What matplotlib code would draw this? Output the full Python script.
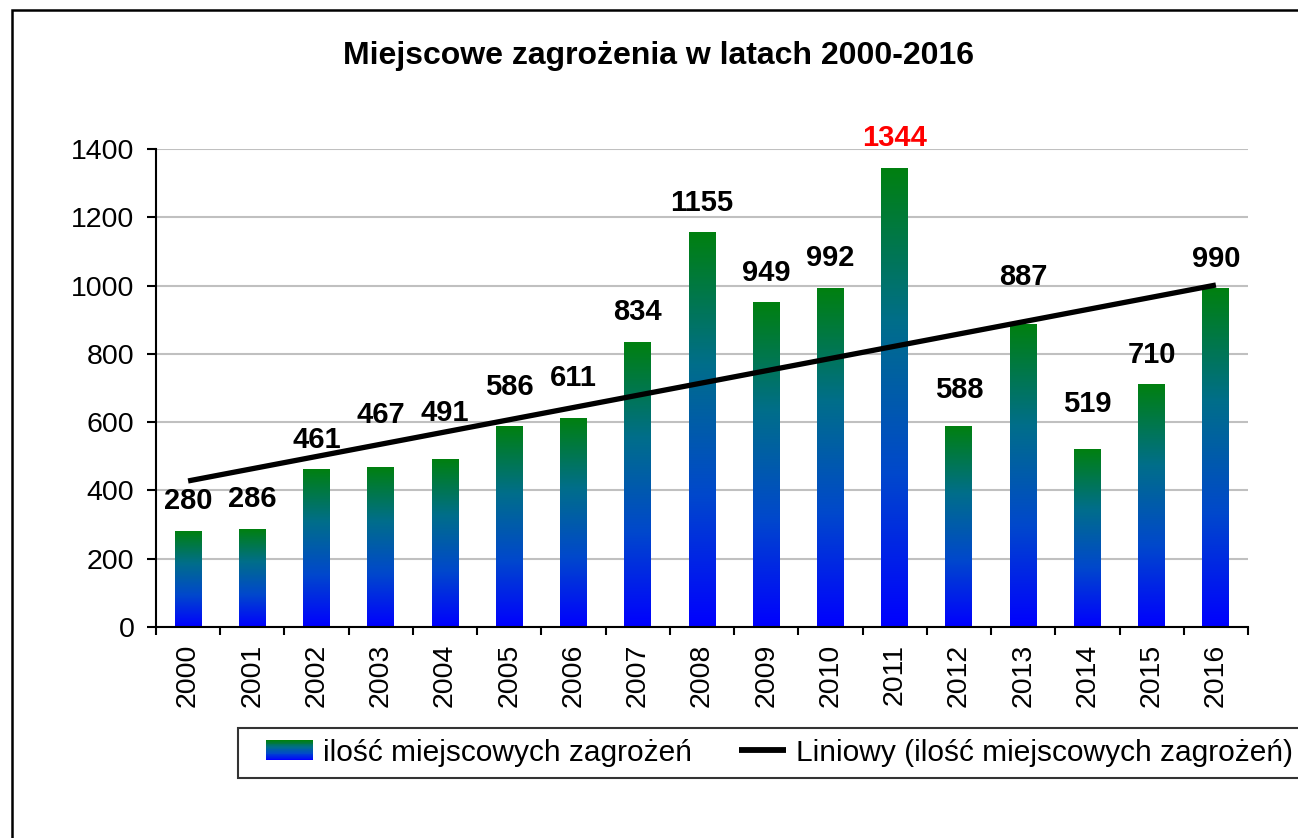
import numpy as np
import matplotlib
matplotlib.use('Agg')
import matplotlib.pyplot as plt
from matplotlib.colors import LinearSegmentedColormap
from matplotlib.patches import Rectangle
from matplotlib.lines import Line2D
from matplotlib.legend_handler import HandlerBase

plt.rcParams['font.family'] = ['Liberation Sans', 'DejaVu Sans']

# dane
lata = ['2000', '2001', '2002', '2003', '2004', '2005', '2006', '2007', '2008',
        '2009', '2010', '2011', '2012', '2013', '2014', '2015', '2016']
zagrozenia = [280, 286, 461, 467, 491, 586, 611, 834, 1155,
              949, 992, 1344, 588, 887, 519, 710, 990]
# dodatkowe odsuniecie etykiet (px) tam, gdzie koliduja z linia trendu
przesuniecia = [0, 0, 0, 23, 16, 10, 10, 0, 0, 0, 0, 0, 6, 17, 16, 0, 0]

tytul = 'Miejscowe zagrożenia w latach 2000-2016'
etykieta_serii = 'ilość miejscowych zagrożeń'
etykieta_trendu = 'Liniowy (ilość miejscowych zagrożeń)'

gradient = LinearSegmentedColormap.from_list(
    'zielono_niebieski', ['#0000FF', '#0048CC', '#006E8A', '#008010'])

FS = 21.5        # rozmiar czcionki legendy
PX = 100 / 72    # px na punkt
WCIECIE = 17     # px pustego miejsca przed symbolem w legendzie


class GradientHandler(HandlerBase):
    # prostokat z gradientem w legendzie
    def create_artists(self, legend, orig_handle, xdescent, ydescent,
                       width, height, fontsize, trans):
        n = 24
        x0 = -xdescent + WCIECIE / PX
        w = width - WCIECIE / PX
        out = []
        for i in range(n):
            r = Rectangle((x0, -ydescent + height * i / n), w, height / n + 0.3,
                          facecolor=gradient(i / (n - 1)), edgecolor='none', transform=trans)
            out.append(r)
        return out


class LiniaHandler(HandlerBase):
    def create_artists(self, legend, orig_handle, xdescent, ydescent,
                       width, height, fontsize, trans):
        x0 = -xdescent + WCIECIE / PX
        y = -ydescent + height / 2
        l = Line2D([x0, -xdescent + width], [y, y], color='black', lw=4.2,
                   solid_capstyle='butt', transform=trans)
        return [l]


fig = plt.figure(figsize=(12.98, 8.38), dpi=100)
ax = fig.add_axes([156 / 1298, 1 - 627 / 838, (1248 - 156) / 1298, (627 - 149) / 838])

x = np.arange(len(lata))
szer = 0.42
slupki = ax.bar(x, zagrozenia, width=szer, color='none', edgecolor='none', zorder=2)

grad = np.linspace(0, 1, 256).reshape(-1, 1)
for r in slupki:
    ax.imshow(grad, extent=[r.get_x(), r.get_x() + r.get_width(), 0, r.get_height()],
              origin='lower', aspect='auto', cmap=gradient, zorder=2)

# linia trendu
a, b = np.polyfit(x, zagrozenia, 1)
ax.plot([x[0], x[-1]], [a * x[0] + b, a * x[-1] + b], color='black', lw=3.8,
        zorder=3, solid_capstyle='butt')

# etykiety wartosci
maks = max(zagrozenia)
for xi, v, dp in zip(x, zagrozenia, przesuniecia):
    ax.annotate(str(v), (xi, v), xytext=(0, (30 + dp) / PX), textcoords='offset points',
                ha='center', va='center', fontsize=21, fontweight='bold',
                color='red' if v == maks else 'black', annotation_clip=False, zorder=4)

ax.set_xlim(-0.5, len(lata) - 0.5)
ax.set_ylim(0, 1400)
ax.set_yticks(range(0, 1401, 200))
ax.yaxis.grid(True, color='#C0C0C0', lw=1.5)
ax.set_axisbelow(True)

ax.set_xticks(np.arange(-0.5, len(lata), 1))
ax.set_xticklabels([])
ax.set_xticks(x, minor=True)
ax.set_xticklabels(lata, minor=True, rotation=90)
ax.tick_params(axis='x', which='major', length=6, width=1.5, direction='out')
ax.tick_params(axis='x', which='minor', length=0, pad=12, labelsize=20.5)
ax.tick_params(axis='y', length=6.5, width=1.5, direction='out', pad=9, labelsize=20.5)

for s in ['top', 'right']:
    ax.spines[s].set_visible(False)
for s in ['left', 'bottom']:
    ax.spines[s].set_linewidth(1.5)

fig.text(0.507, 1 - 56 / 838, tytul, ha='center', va='center', fontsize=23, fontweight='bold')

h_slupki = Rectangle((0, 0), 1, 1)
h_trend = Line2D([], [])
em = FS * PX
leg = fig.legend([h_slupki, h_trend], [etykieta_serii, etykieta_trendu],
                 handler_map={Rectangle: GradientHandler(), Line2D: LiniaHandler()},
                 loc='upper left', bbox_to_anchor=(238 / 1298, 1 - 728 / 838),
                 ncol=2, fontsize=FS, frameon=True, fancybox=False,
                 handlelength=(47 + WCIECIE) / em, handletextpad=10 / em,
                 columnspacing=30 / em, handleheight=0.65,
                 borderpad=0.36, borderaxespad=0)
leg.get_frame().set_edgecolor('black')
leg.get_frame().set_linewidth(1.5)

# ramka wokol calego wykresu
fig.patches.append(Rectangle((12 / 1298, -0.05), 1.2, 1 - 10 / 838 + 0.05, fill=False,
                             edgecolor='black', lw=1.8, transform=fig.transFigure))

fig.savefig('out.png', dpi=100)
